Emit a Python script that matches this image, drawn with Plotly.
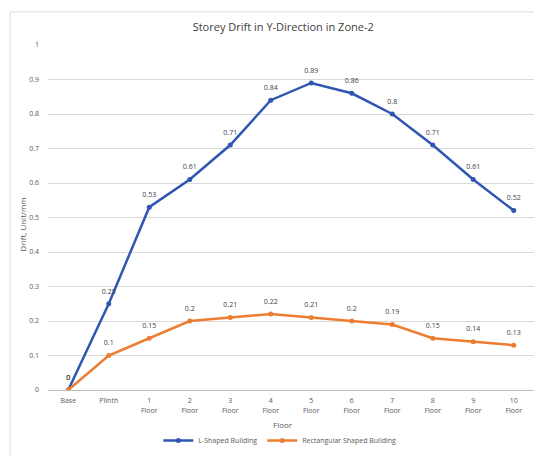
import plotly.graph_objects as go

floors = ["Base", "Plinth", "1<br>Floor", "2<br>Floor", "3<br>Floor", "4<br>Floor", "5<br>Floor",
          "6<br>Floor", "7<br>Floor", "8<br>Floor", "9<br>Floor", "10<br>Floor"]
l_shaped = [0, 0.25, 0.53, 0.61, 0.71, 0.84, 0.89, 0.86, 0.8, 0.71, 0.61, 0.52]
rect_shaped = [0, 0.1, 0.15, 0.2, 0.21, 0.22, 0.21, 0.2, 0.19, 0.15, 0.14, 0.13]
y_ticks = [0, 0.1, 0.2, 0.3, 0.4, 0.5, 0.6, 0.7, 0.8, 0.9, 1]
y_ticktext = ["0", "0.1", "0.2", "0.3", "0.4", "0.5", "0.6", "0.7", "0.8", "0.9", "1"]

FONT = "Open Sans, Liberation Sans, Arial"
BLUE = "#2F56B3"
ORANGE = "#ED7D31"
fig = go.Figure()
for name, vals, col in [("L-Shaped Building", l_shaped, BLUE),
                        ("Rectangular Shaped Building", rect_shaped, ORANGE)]:
    fig.add_trace(go.Scatter(
        x=floors, y=vals, name=name, mode="lines+markers",
        line=dict(color=col, width=2.5), marker=dict(size=5, color=col)))
    fig.add_trace(go.Scatter(
        x=floors, y=vals, mode="markers+text", showlegend=False, hoverinfo="skip",
        marker=dict(size=12, color="rgba(0,0,0,0)"),
        text=[str(v) for v in vals], textposition="top center",
        textfont=dict(size=7, color="#404040", family=FONT)))

fig.update_layout(
    width=534, height=456,
    margin=dict(l=48, r=0, t=45, b=66),
    paper_bgcolor="white", plot_bgcolor="white",
    font=dict(family=FONT, size=7, color="#595959"),
    title=dict(text="Storey Drift in Y-Direction in Zone-2", xref="paper", x=0.484, xanchor="center",
               yref="container", y=1 - 27 / 456, yanchor="middle",
               font=dict(size=11, color="#404040", family=FONT)),
    showlegend=True,
    legend=dict(orientation="h", x=0.477, xanchor="center", y=(390 - 455) / 345, yanchor="bottom",
                font=dict(size=7, color="#595959"), itemwidth=30, bgcolor="rgba(0,0,0,0)"),
    xaxis=dict(type="category", range=[-0.5, 11.5], showgrid=False, showline=True,
               linecolor="#bfbfbf", linewidth=1, automargin=False, ticklabelstandoff=4,
               ticks="", tickfont=dict(size=7, color="#595959"), zeroline=False),
    yaxis=dict(range=[0, 1], tickvals=y_ticks, ticktext=y_ticktext, showgrid=True,
               gridcolor="#d9d9d9", gridwidth=1, zeroline=False, showline=False, ticks="",
               automargin=False,
               tickfont=dict(size=7, color="#595959"), ticklabelstandoff=8),
    shapes=[dict(type="rect", xref="paper", yref="paper", x0=-0.078, x1=1.01,
                 y0=(390 - 460) / 345, y1=1.096,
                 line=dict(color="#d9d9d9", width=1), fillcolor="rgba(0,0,0,0)", layer="below")],
    annotations=[
        dict(text="Floor", xref="paper", yref="paper", x=0.484, y=(390 - 424) / 345, showarrow=False,
             font=dict(size=8, color="#595959"), xanchor="center", yanchor="middle"),
        dict(text="Drift, Unit/mm", xref="paper", yref="paper", x=(22 - 48) / 486, y=0.48,
             textangle=-90, showarrow=False, font=dict(size=8, color="#595959"),
             xanchor="center", yanchor="middle"),
    ],
)
fig.write_html("out.html", config={"displayModeBar": False},
               post_script="document.body.style.margin='0';document.body.style.overflow='hidden';")
